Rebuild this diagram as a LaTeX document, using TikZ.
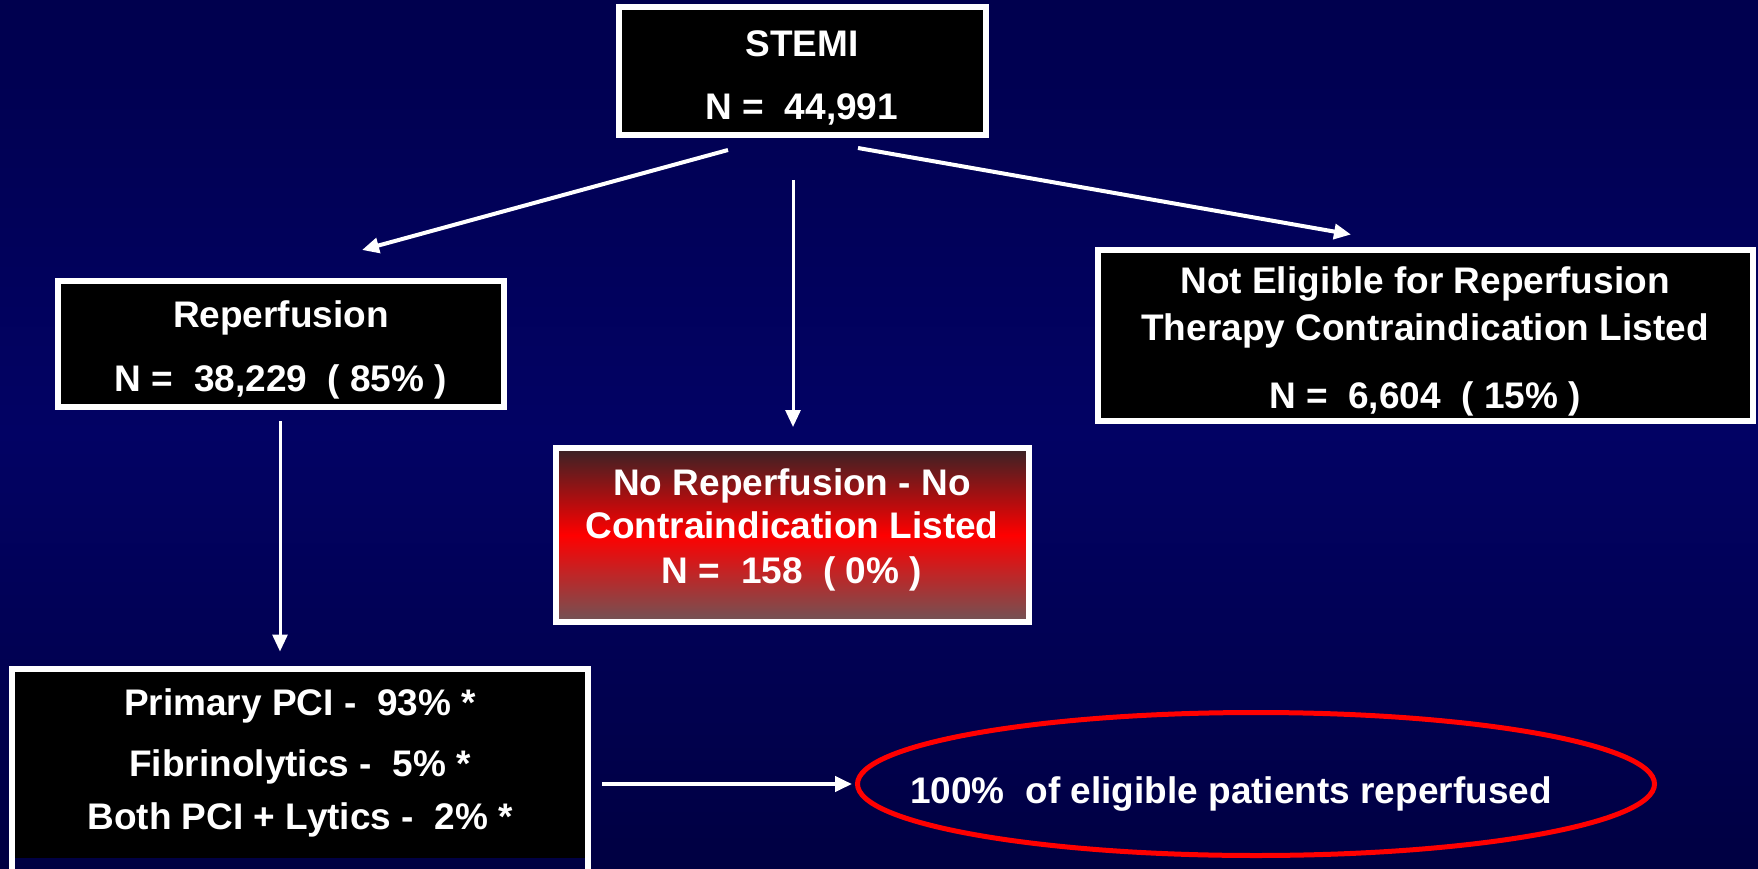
\documentclass[tikz,border=0pt]{standalone}
\usepackage{fontspec}
\setmainfont{Liberation Sans}
\usetikzlibrary{arrows.meta,shapes.geometric}

\definecolor{navytop}{RGB}{0,0,78}
\definecolor{navymid}{RGB}{2,2,100}
\definecolor{navybot}{RGB}{0,0,66}
\definecolor{redtop}{RGB}{55,35,38}
\definecolor{redbot}{RGB}{112,84,86}
\newcommand\tallstrut{\rule{0pt}{39pt}}

\begin{document}
\begin{tikzpicture}[x=1pt, y=-1pt,
  box/.style={rectangle, draw=white, line width=6pt, fill=black, text=white, align=center,
    inner sep=0pt, outer sep=0pt, font=\bfseries\fontsize{37}{44}\selectfont},
  hightext/.style={execute at end node={\rule[-17pt]{0pt}{0pt}}},
  flow/.style={draw=white, line width=4pt, -{Triangle[length=17pt,width=15pt]}}]
\useasboundingbox (0,0) rectangle (1758,869);
\shade[top color=navytop, bottom color=navybot, middle color=navymid] (0,0) rectangle (1758,869);
% boxes
\node[box, minimum width=367pt, minimum height=128pt] (stemi) at (802,71)
  {\tallstrut STEMI\\[19pt]N = \ 44,991};
\node[box, minimum width=446pt, minimum height=126pt] (reperf) at (281,344)
  {\tallstrut Reperfusion\\[20pt]N = \ 38,229 \ ( 85\% )};
\node[box, minimum width=655pt, minimum height=171pt] (notelig) at (1425,335)
  {\tallstrut Not Eligible for Reperfusion\\[3pt]Therapy Contraindication Listed\\[24pt]N = \ 6,604 \ ( 15\% )};
\node[box, hightext, top color=redtop, bottom color=redbot, middle color=red,
  minimum width=473pt, minimum height=174pt] (noreperf) at (792,535)
  {No Reperfusion - No\\[-1pt]Contraindication Listed\\[1pt]N = \ 158 \ ( 0\% )};
\node[box, draw=none, minimum width=576pt, minimum height=189pt] (pci) at (300,763)
  {Primary PCI - \ 93\% *\\[17pt]Fibrinolytics - \ 5\% *\\[9pt]Both PCI + Lytics - \ 2\% *};
\draw[white, line width=6pt] ([yshift=-30pt]pci.south west) -- (pci.north west)
  -- (pci.north east) -- ([yshift=-30pt]pci.south east);
\node[ellipse, draw=red, line width=5pt, minimum width=797pt, minimum height=143pt] (goal) at (1256,784) {};
\node[text=white, font=\bfseries\fontsize{37}{44}\selectfont] (goaltext) at (1231,794)
  {100\% \ of eligible patients reperfused};
% arrows
\draw[flow] ([xshift=-74pt,yshift=-15pt]stemi.south) -- ([xshift=81pt,yshift=31pt]reperf.north);
\draw[flow, line width=3pt] ([xshift=-9pt,yshift=-45pt]stemi.south) -- ([xshift=1pt,yshift=21pt]noreperf.north);
\draw[flow] ([xshift=56pt,yshift=-13pt]stemi.south) -- ([xshift=-74pt,yshift=15pt]notelig.north);
\draw[flow, line width=3pt] ([xshift=-1pt,yshift=-14pt]reperf.south) -- ([xshift=-20pt,yshift=17pt]pci.north);
\draw[flow] ([xshift=14pt]pci.east |- goal.west) -- ([xshift=-3pt]goal.west);
\end{tikzpicture}
\end{document}
